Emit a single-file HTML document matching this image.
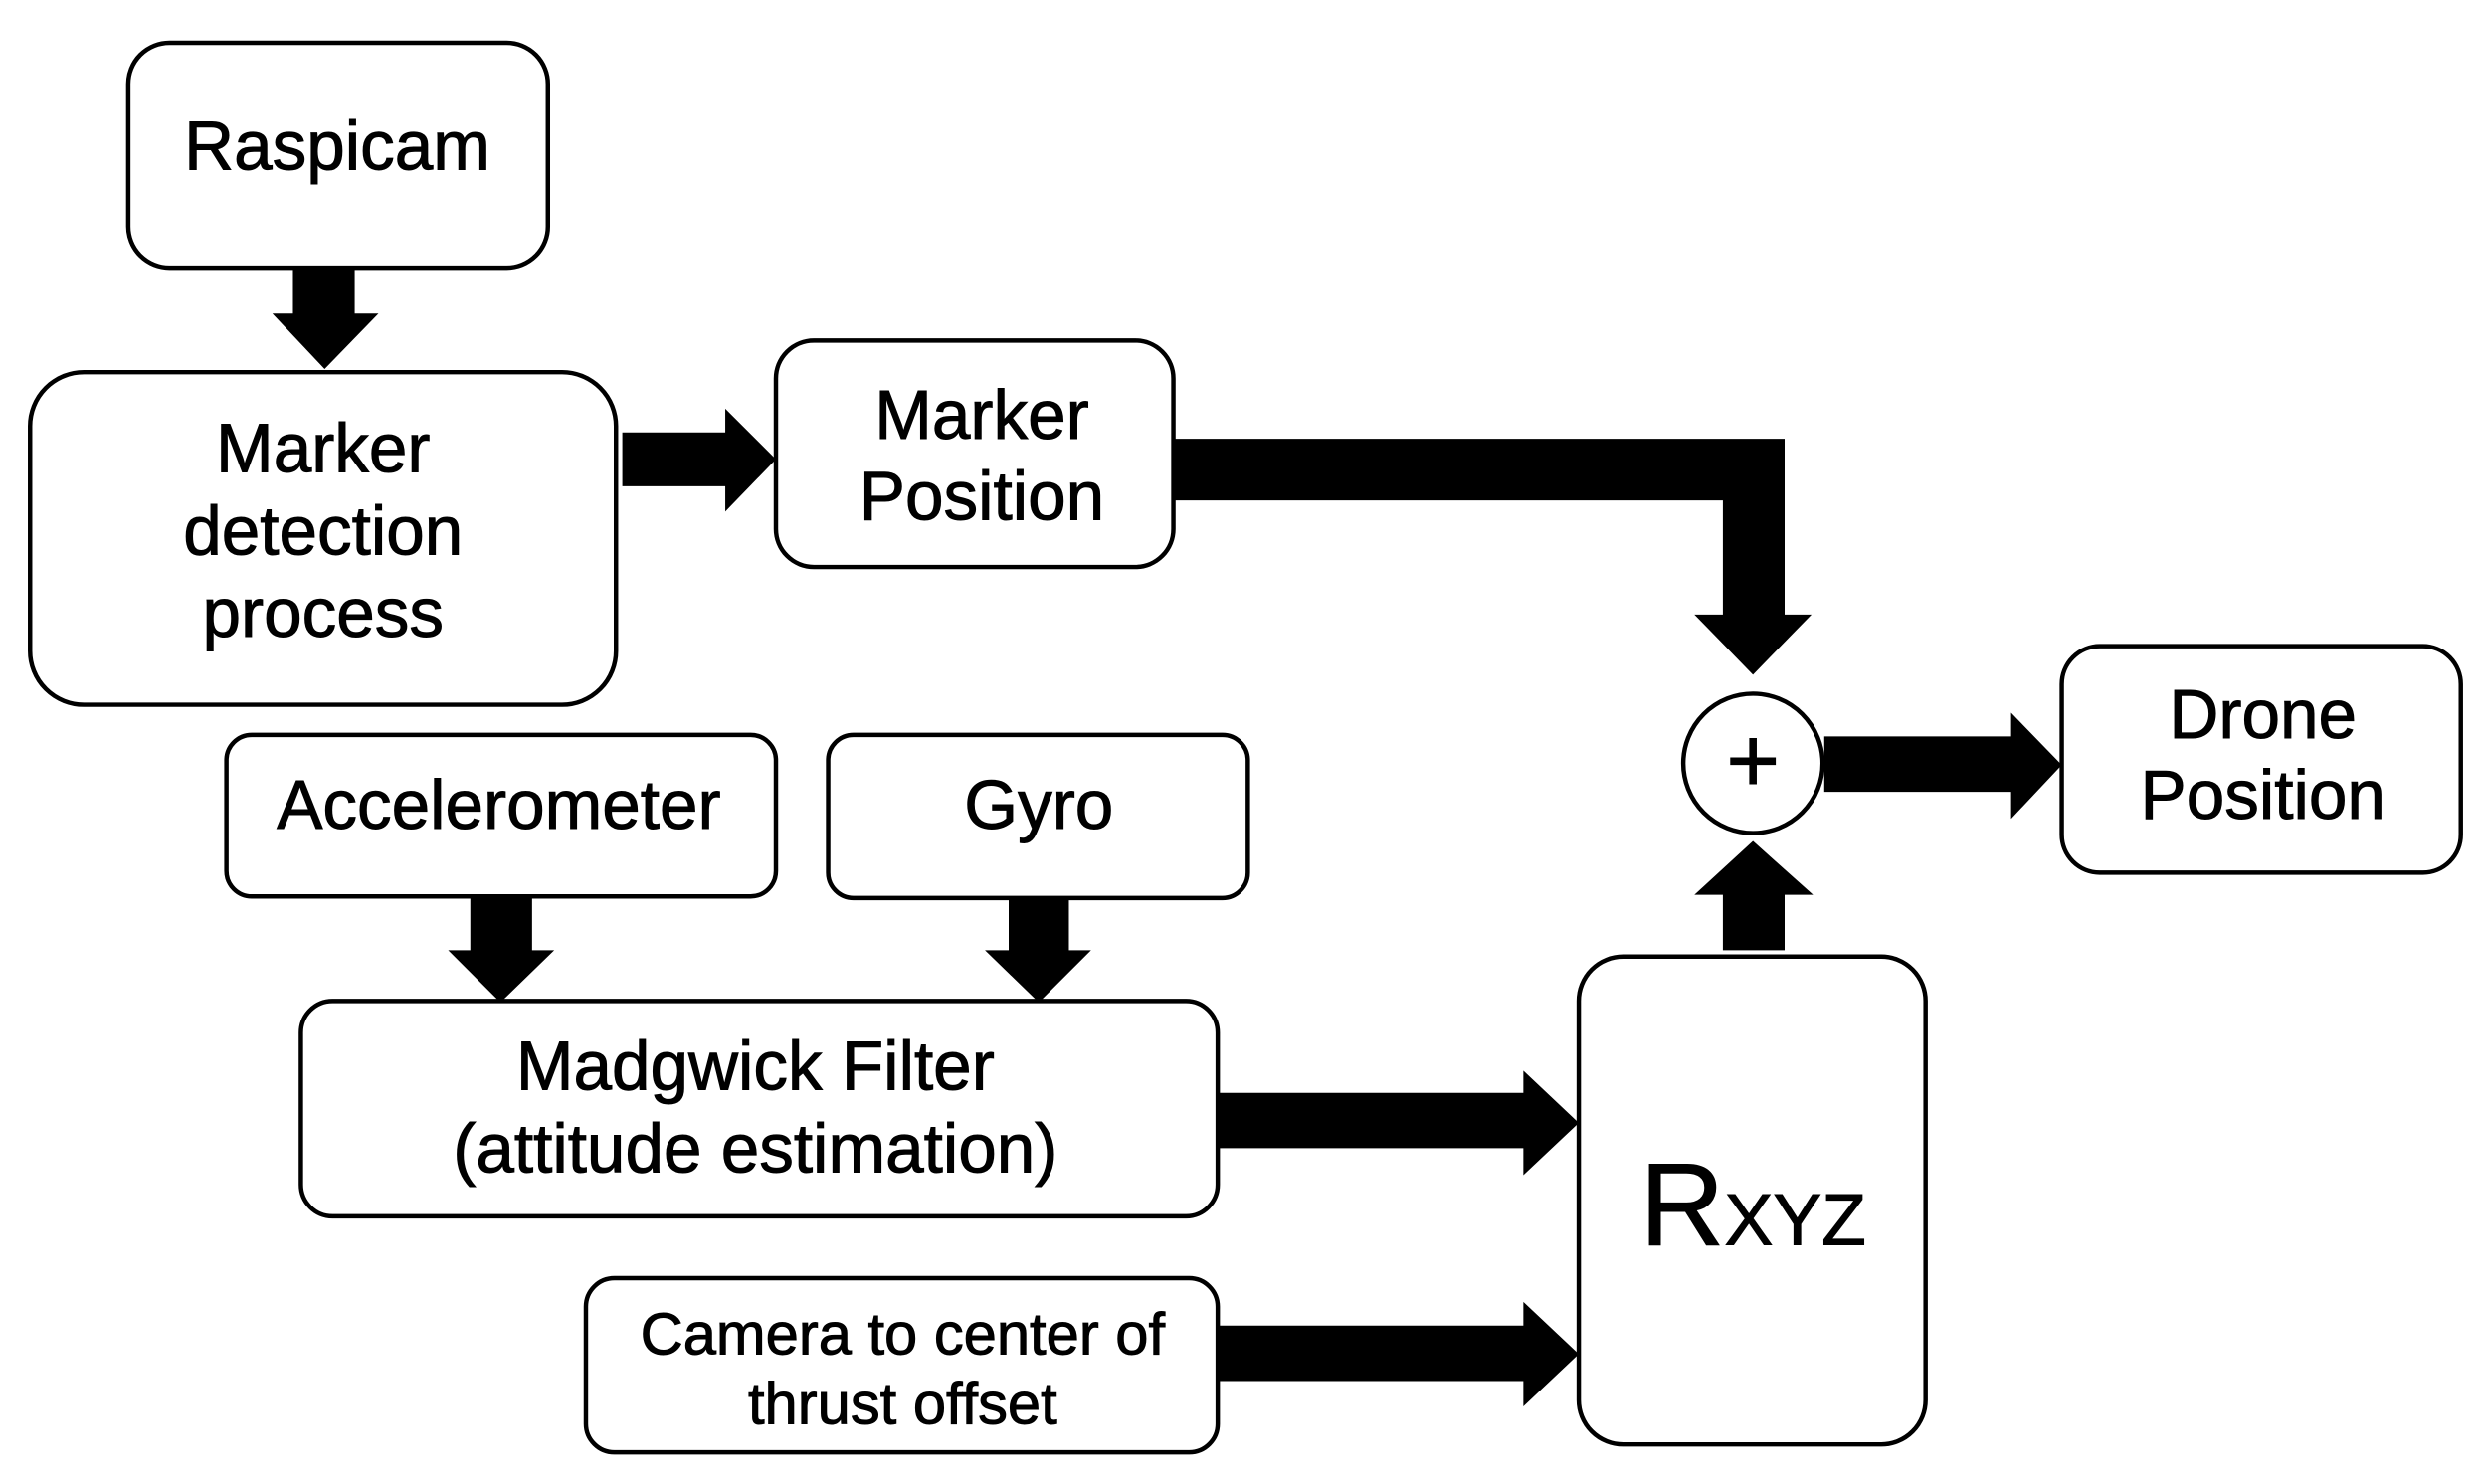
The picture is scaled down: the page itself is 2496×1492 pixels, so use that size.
<!DOCTYPE html>
<html><head><meta charset="utf-8"><style>
html,body{margin:0;padding:0;background:#fff;}
svg{display:block;}
text{font-family:"Liberation Sans",Arial,sans-serif;fill:#000;text-anchor:middle;}
</style></head><body>
<svg width="2496" height="1492" viewBox="0 0 1568 937" preserveAspectRatio="none" xmlns="http://www.w3.org/2000/svg">
<rect width="1568" height="937" fill="#fff"/>
<g fill="#fff" stroke="#000" stroke-width="2.8">
<rect x="81" y="27" width="265" height="142" rx="26"/>
<rect x="19" y="235" width="370" height="210" rx="34"/>
<rect x="490" y="215" width="251" height="143" rx="24"/>
<rect x="143" y="464" width="347" height="102" rx="16"/>
<rect x="523" y="464" width="265" height="103" rx="16"/>
<rect x="190" y="632" width="579" height="136" rx="20"/>
<rect x="370" y="807" width="399" height="110" rx="18"/>
<rect x="997" y="604" width="219" height="308" rx="28"/>
<rect x="1302" y="408" width="252" height="143" rx="24"/>
<circle cx="1107" cy="482" r="44"/>
</g>
<g fill="#000">
<polygon points="185,169 224,169 224,198 239,198 205,233 172,198 185,198"/>
<polygon points="393,273 458,273 458,258 490,290 458,323 458,307 393,307"/>
<polygon points="741,277 1127,277 1127,388 1144,388 1107,426 1070,388 1088,388 1088,316 741,316"/>
<polygon points="1152,465 1270,465 1270,450 1302,483 1270,517 1270,500 1152,500"/>
<polygon points="1088,600 1127,600 1127,565 1145,565 1107,531 1070,565 1088,565"/>
<polygon points="297,566 336,566 336,600 350,600 316,633 283,600 297,600"/>
<polygon points="637,567 675,567 675,600 689,600 656,633 622,600 637,600"/>
<polygon points="769,690 962,690 962,676 997,709 962,742 962,725 769,725"/>
<polygon points="769,837 962,837 962,822 997,855 962,888 962,872 769,872"/>
</g>
<g stroke="#000" stroke-width="0.6">
<text x="213" y="107" font-size="43.5">Raspicam</text>
<text x="204" y="298" font-size="43.5">Marker</text>
<text x="204" y="350" font-size="43.5">detection</text>
<text x="204" y="402" font-size="43.5">process</text>
<text x="620" y="277" font-size="43.5">Marker</text>
<text x="620" y="328" font-size="43.5">Position</text>
<text x="315" y="523" font-size="43.5">Accelerometer</text>
<text x="656" y="523" font-size="43.5">Gyro</text>
<text x="477" y="688" font-size="43.5">Madgwick Filter</text>
<text x="477" y="740" font-size="43.5">(attitude estimation)</text>
<text x="570" y="855" font-size="37.5">Camera to center of</text>
<text x="570" y="899" font-size="37.5">thrust offset</text>
<text x="1429" y="466" font-size="43.5">Drone</text>
<text x="1429" y="517" font-size="43.5">Position</text>
<text x="1107" y="500" font-size="58">+</text>
<text x="1107" y="786" font-size="46"><tspan font-size="74">R</tspan>XYZ</text>
</g>
</svg>
</body></html>
